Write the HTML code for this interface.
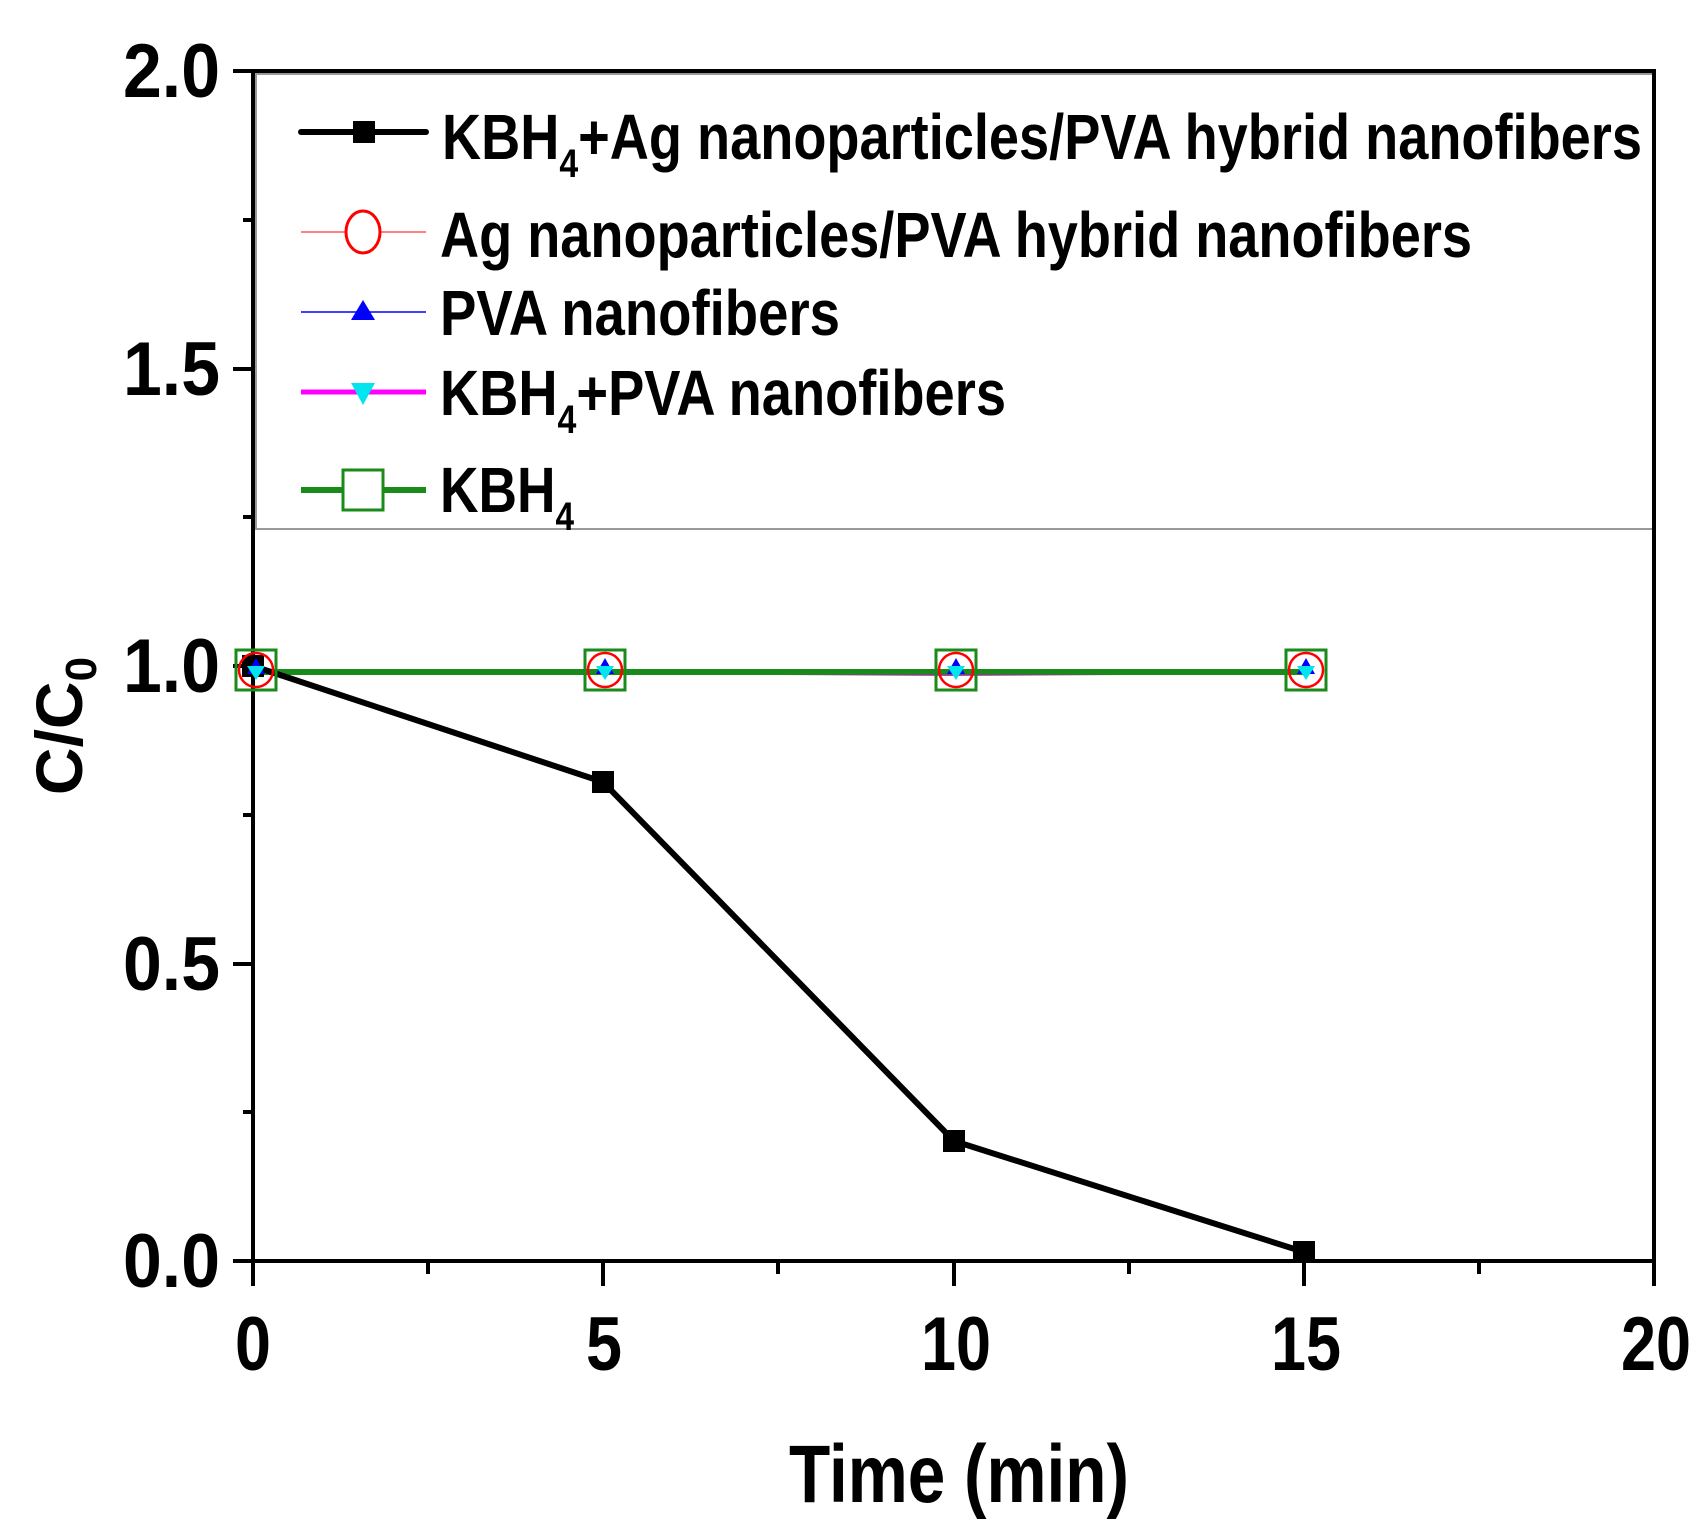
<!DOCTYPE html>
<html><head><meta charset="utf-8"><style>html,body{margin:0;padding:0;background:#fff}</style></head>
<body>
<svg width="1703" height="1528" viewBox="0 0 1703 1528" xmlns="http://www.w3.org/2000/svg" font-family="'Liberation Sans', sans-serif" font-weight="bold">
<rect x="256" y="74" width="1397" height="455" fill="#fff" stroke="#999" stroke-width="2"/>
<rect x="253" y="71" width="1401" height="1190" fill="none" stroke="#000" stroke-width="4"/>
<g stroke="#000" stroke-width="4">
<line x1="233" y1="71" x2="253" y2="71"/><line x1="233" y1="369" x2="253" y2="369"/><line x1="233" y1="666" x2="253" y2="666"/><line x1="233" y1="964" x2="253" y2="964"/><line x1="233" y1="1261" x2="253" y2="1261"/>
<line x1="243" y1="220" x2="253" y2="220"/><line x1="243" y1="517" x2="253" y2="517"/><line x1="243" y1="815" x2="253" y2="815"/><line x1="243" y1="1112" x2="253" y2="1112"/>
<line x1="253" y1="1261" x2="253" y2="1286"/><line x1="603" y1="1261" x2="603" y2="1286"/><line x1="954" y1="1261" x2="954" y2="1286"/><line x1="1304" y1="1261" x2="1304" y2="1286"/><line x1="1654" y1="1261" x2="1654" y2="1286"/>
<line x1="428" y1="1261" x2="428" y2="1274"/><line x1="778" y1="1261" x2="778" y2="1274"/><line x1="1129" y1="1261" x2="1129" y2="1274"/><line x1="1479" y1="1261" x2="1479" y2="1274"/>
</g>
<g font-size="76" text-anchor="end">
<text x="220" y="97" textLength="97" lengthAdjust="spacingAndGlyphs">2.0</text>
<text x="220" y="395" textLength="97" lengthAdjust="spacingAndGlyphs">1.5</text>
<text x="220" y="692" textLength="97" lengthAdjust="spacingAndGlyphs">1.0</text>
<text x="220" y="990" textLength="97" lengthAdjust="spacingAndGlyphs">0.5</text>
<text x="220" y="1287" textLength="97" lengthAdjust="spacingAndGlyphs">0.0</text>
</g>
<g font-size="76" text-anchor="middle">
<text x="253" y="1370" textLength="36" lengthAdjust="spacingAndGlyphs">0</text>
<text x="604" y="1370" textLength="36" lengthAdjust="spacingAndGlyphs">5</text>
<text x="956" y="1370" textLength="70" lengthAdjust="spacingAndGlyphs">10</text>
<text x="1306" y="1370" textLength="70" lengthAdjust="spacingAndGlyphs">15</text>
<text x="1656" y="1370" textLength="70" lengthAdjust="spacingAndGlyphs">20</text>
</g>
<text x="959" y="1502" font-size="82" text-anchor="middle" textLength="340" lengthAdjust="spacingAndGlyphs">Time (min)</text>
<g transform="translate(82,726) rotate(-90)"><text x="0" y="0" font-size="66" text-anchor="middle">C/C<tspan font-size="44" dy="14">0</tspan></text></g>
<polyline points="253,672 603,672 954,674 1304,672" fill="none" stroke="#ff00ff" stroke-width="4"/>
<polyline points="253,672 603,672 954,672 1304,672" fill="none" stroke="#1a8a1a" stroke-width="6"/>
<polyline points="253,666 603,782 954,1141 1304,1252" fill="none" stroke="#000" stroke-width="6"/>
<g fill="#000"><rect x="242" y="655" width="22" height="22"/><rect x="592" y="771" width="22" height="22"/><rect x="943" y="1130" width="22" height="22"/><rect x="1293" y="1241" width="22" height="22"/></g>
<g>
<g transform="translate(256,670)"><circle r="17" fill="none" stroke="red" stroke-width="2.5"/><path d="M0,-12 L9,4 L-9,4Z" fill="blue"/><path d="M-9,-4 L9,-4 L0,10Z" fill="#00e5ee"/><rect x="-20" y="-20" width="40" height="40" fill="none" stroke="#1a8a1a" stroke-width="3"/></g>
<g transform="translate(605,670)"><circle r="17" fill="none" stroke="red" stroke-width="2.5"/><path d="M0,-12 L9,4 L-9,4Z" fill="blue"/><path d="M-9,-4 L9,-4 L0,10Z" fill="#00e5ee"/><rect x="-20" y="-20" width="40" height="40" fill="none" stroke="#1a8a1a" stroke-width="3"/></g>
<g transform="translate(956,670)"><circle r="17" fill="none" stroke="red" stroke-width="2.5"/><path d="M0,-12 L9,4 L-9,4Z" fill="blue"/><path d="M-9,-4 L9,-4 L0,10Z" fill="#00e5ee"/><rect x="-20" y="-20" width="40" height="40" fill="none" stroke="#1a8a1a" stroke-width="3"/></g>
<g transform="translate(1306,670)"><circle r="17" fill="none" stroke="red" stroke-width="2.5"/><path d="M0,-12 L9,4 L-9,4Z" fill="blue"/><path d="M-9,-4 L9,-4 L0,10Z" fill="#00e5ee"/><rect x="-20" y="-20" width="40" height="40" fill="none" stroke="#1a8a1a" stroke-width="3"/></g>
</g>
<line x1="301" y1="132" x2="426" y2="132" stroke="#000" stroke-width="6" stroke-linecap="round"/><rect x="353" y="121" width="22" height="22" fill="#000"/>
<line x1="301" y1="232" x2="426" y2="232" stroke="red" stroke-width="1"/><ellipse cx="363" cy="232" rx="17" ry="21" fill="#fff" stroke="red" stroke-width="3"/>
<line x1="301" y1="312" x2="426" y2="312" stroke="blue" stroke-width="1.5"/><path d="M363,300 L375,320 L351,320Z" fill="blue"/>
<line x1="301" y1="392" x2="426" y2="392" stroke="#ff00ff" stroke-width="5"/><path d="M351,383 L375,383 L363,405Z" fill="#00e5ee"/>
<line x1="301" y1="490" x2="426" y2="490" stroke="#1a8a1a" stroke-width="6"/><rect x="343" y="470" width="40" height="40" fill="#fff" stroke="#1a8a1a" stroke-width="3"/>
<g font-size="64" font-weight="bold">
<text x="442" y="159" textLength="1200" lengthAdjust="spacingAndGlyphs">KBH<tspan font-size="40" dy="18">4</tspan><tspan dy="-18">+Ag nanoparticles/PVA hybrid nanofibers</tspan></text>
<text x="440" y="257" textLength="1032" lengthAdjust="spacingAndGlyphs">Ag nanoparticles/PVA hybrid nanofibers</text>
<text x="440" y="335" textLength="400" lengthAdjust="spacingAndGlyphs">PVA nanofibers</text>
<text x="440" y="415" textLength="566" lengthAdjust="spacingAndGlyphs">KBH<tspan font-size="40" dy="18">4</tspan><tspan dy="-18">+PVA nanofibers</tspan></text>
<text x="440" y="512" textLength="134" lengthAdjust="spacingAndGlyphs">KBH<tspan font-size="40" dy="18">4</tspan></text>
</g>
</svg>
</body></html>
